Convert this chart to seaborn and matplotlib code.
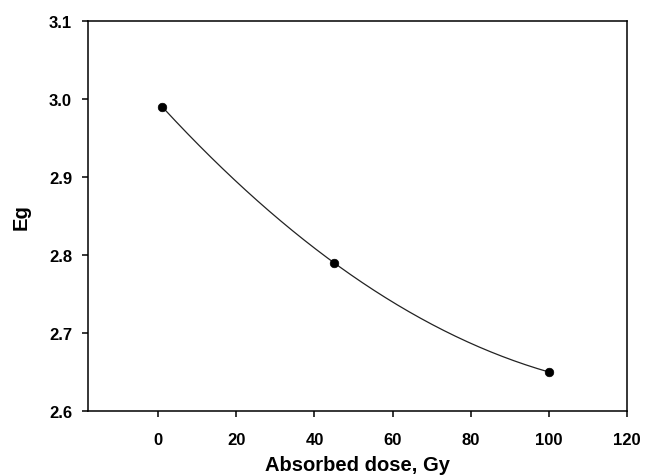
import numpy as np
import pandas as pd
import matplotlib
matplotlib.use("Agg")
import matplotlib.pyplot as plt
import seaborn as sns

# Data
dose = [1, 45, 100]
eg = [2.99, 2.79, 2.65]
x_ticks = [0, 20, 40, 60, 80, 100, 120]
y_ticks = [2.6, 2.7, 2.8, 2.9, 3.0, 3.1]

sns.set_theme(style="ticks")
plt.rcParams['font.family'] = ['Liberation Sans', 'DejaVu Sans']

fig = plt.figure(figsize=(6.45, 4.77), dpi=100)
ax = fig.add_axes([0.1364, 0.1363, 0.8356, 0.8176])

# smooth curve through the data points (quadratic through the 3 points)
coef = np.polyfit(dose, eg, 2)
xs = np.linspace(min(dose), max(dose), 200)
curve = pd.DataFrame({"x": xs, "y": np.polyval(coef, xs)})
sns.lineplot(data=curve, x="x", y="y", ax=ax, color="#222222", linewidth=0.9)

pts = pd.DataFrame({"dose": dose, "eg": eg})
sns.scatterplot(data=pts, x="dose", y="eg", ax=ax, color="black", s=38,
                marker="o", edgecolor="black", linewidth=0.5, zorder=5)

ax.set_xlim(-18, 120)
ax.set_ylim(2.6, 3.1)
ax.set_xticks(x_ticks)
ax.set_yticks(y_ticks)
ax.set_xticklabels([str(t) for t in x_ticks])
ax.set_yticklabels([f"{t:.1f}" for t in y_ticks])

for s in ax.spines.values():
    s.set_visible(True)
    s.set_linewidth(1.1)
    s.set_color("black")

ax.tick_params(axis="both", direction="out", length=4.5, width=1.1,
               color="black", labelsize=12, labelcolor="black")
ax.tick_params(axis="x", pad=10.5)
ax.tick_params(axis="y", pad=7)
for lab in ax.get_xticklabels() + ax.get_yticklabels():
    lab.set_fontweight("bold")

ax.set_xlabel("Absorbed dose, Gy", fontsize=14.5, fontweight="bold",
              color="black", labelpad=6)
ax.set_ylabel("Eg", fontsize=14.5, fontweight="bold", color="black",
              labelpad=13)
ax.grid(False)

fig.savefig("out.png", dpi=100)
